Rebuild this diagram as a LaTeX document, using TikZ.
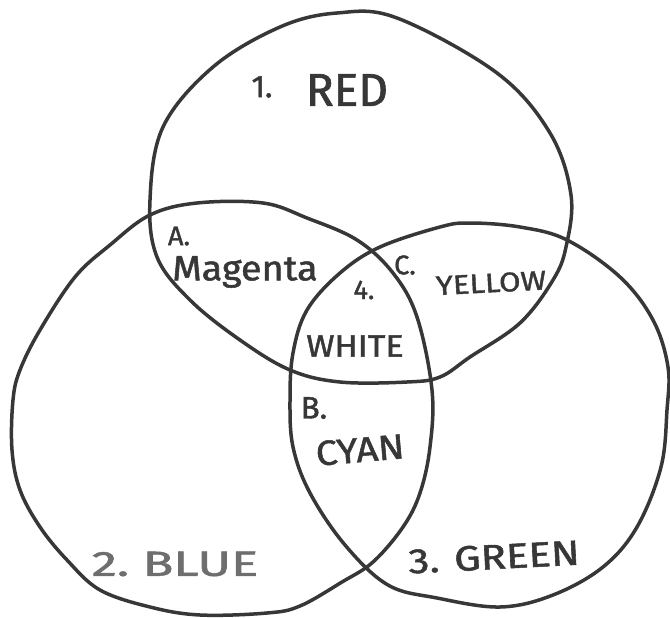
\documentclass[tikz,border=0pt]{standalone}
\usepackage{fontspec}
\setmainfont{Fira Sans}[FakeBold=1.4]
\usepackage{tikz}
\definecolor{ink}{RGB}{55,55,55}
\definecolor{pencil}{RGB}{110,110,110}
\tikzset{
  ring/.style={draw=ink, line width=3.5pt, line join=round},
  lbl/.style={text=ink, inner sep=0pt, anchor=center},
  huge/.style={lbl, font=\fontsize{46}{50}\selectfont},
  big/.style={lbl, font=\fontsize{35}{40}\selectfont},
  mid/.style={lbl, font=\fontsize{31}{35}\selectfont},
  small/.style={lbl, font=\fontsize{27}{30}\selectfont}
}
\begin{document}
\begin{tikzpicture}[x=1pt, y=-1pt]
\useasboundingbox (0,0) rectangle (670,618);
% red, top
\draw[ring] plot[smooth cycle, tension=0.6] coordinates {
  (150,200) (157,257) (190,300) (240,340) (290,370) (340,382) (407,382)
  (440,377) (470,357) (520,323) (553,280) (566,247) (571,195) (550,133)
  (497,73) (397,18) (337,13) (280,27) (213,67) (163,127)};
% blue, bottom left
\draw[ring] plot[smooth cycle, tension=0.6] coordinates {
  (13,400) (12,450) (20,490) (40,527) (67,560) (100,590) (150,607)
  (200,615) (267,613) (300,606) (342,582) (373,562) (403,527) (420,493)
  (430,447) (432,390) (417,317) (393,273) (357,240) (307,218) (263,203)
  (197,203) (150,215) (110,245) (75,277) (40,330) (20,370)};
% green, bottom right
\draw[ring] plot[smooth cycle, tension=0.6] coordinates {
  (440,227) (470,223) (520,227) (567,240) (620,277) (653,320) (668,367)
  (667,410) (661,467) (637,527) (603,567) (553,595) (500,607) (437,598)
  (388,585) (345,545) (310,493) (293,447) (290,400) (293,353) (307,310)
  (340,273) (380,247)};
% labels
\node[mid] (n1) at (262,87) {1.};
\node[huge] (tred) at (347,90) {RED};
\node[small] (na) at (179,236) {A.};
\node[big] (tmag) at (245,272) {\scalebox{1.08}[1]{Magenta}};
\node[small] (n4) at (364,290) {4.};
\node[small] (nc) at (405,265) {C.};
\node[small, rotate=3] (tyel) at (491,283) {\scalebox{1.15}[1]{YELLOW}};
\node[mid] (twhi) at (355,346) {\scalebox{1.1}[1]{WHITE}};
\node[mid] (nb) at (314,408) {B.};
\node[big, rotate=5] (tcya) at (360,450) {\scalebox{1.1}[1]{CYAN}};
\node[big, text=pencil] (tblu) at (175,564) {\scalebox{1.45}[1]{2.\ BLUE}};
\node[big, rotate=3] (tgre) at (494,557) {\scalebox{1.2}[1]{3. GREEN}};
\end{tikzpicture}
\end{document}
